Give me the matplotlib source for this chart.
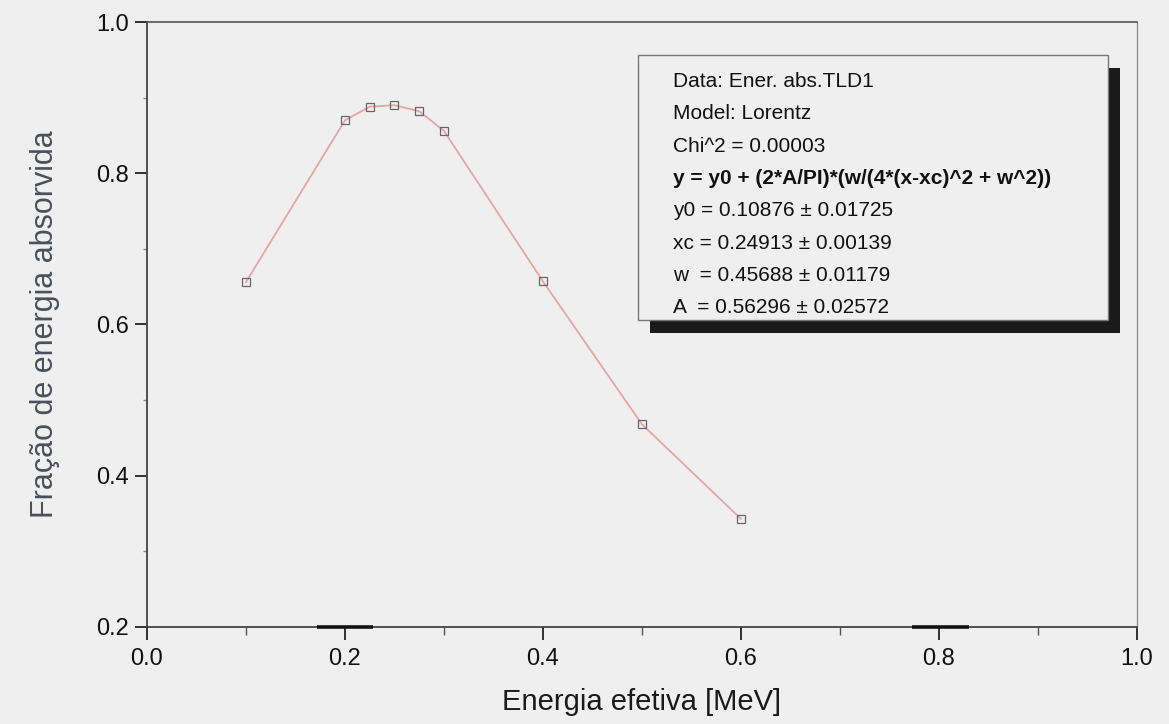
import numpy as np
import matplotlib.pyplot as plt
from matplotlib.ticker import MultipleLocator
from matplotlib.patches import Rectangle

plt.rcParams['font.family'] = ['Liberation Sans', 'DejaVu Sans']

# data
energia = [0.1, 0.2, 0.225, 0.25, 0.275, 0.3, 0.4, 0.5, 0.6]
fracao = [0.656, 0.870, 0.888, 0.890, 0.882, 0.856, 0.657, 0.468, 0.343]

fit_lines = [
    ('Data: Ener. abs.TLD1', 'normal'),
    ('Model: Lorentz', 'normal'),
    ('Chi^2 = 0.00003', 'normal'),
    ('y = y0 + (2*A/PI)*(w/(4*(x-xc)^2 + w^2))', 'bold'),
    ('y0 = 0.10876 \u00b1 0.01725', 'normal'),
    ('xc = 0.24913 \u00b1 0.00139', 'normal'),
    ('w  = 0.45688 \u00b1 0.01179', 'normal'),
    ('A  = 0.56296 \u00b1 0.02572', 'normal'),
]

bg = '#efefef'
fig = plt.figure(figsize=(11.69, 7.24), dpi=100, facecolor=bg)
ax = fig.add_axes([0.1257, 0.134, 0.8469, 0.8356])
ax.set_facecolor(bg)

ax.plot(energia, fracao, color='#e8a4a4', lw=1.3, zorder=2)
ax.plot(energia, fracao, ls='none', marker='s', ms=6, mfc='none',
        mec='#666666', mew=0.9, zorder=3)

ax.set_xlim(0.0, 1.0)
ax.set_ylim(0.2, 1.0)
ax.xaxis.set_major_locator(MultipleLocator(0.2))
ax.xaxis.set_minor_locator(MultipleLocator(0.1))
ax.yaxis.set_major_locator(MultipleLocator(0.2))
ax.yaxis.set_minor_locator(MultipleLocator(0.1))
ax.xaxis.set_major_formatter(plt.FormatStrFormatter('%.1f'))
ax.yaxis.set_major_formatter(plt.FormatStrFormatter('%.1f'))

ax.tick_params(axis='both', which='major', direction='out', length=9,
               width=1.3, color='#222222', labelsize=17, labelcolor='#111111')
ax.tick_params(axis='x', which='minor', direction='out', length=6,
               width=1.0, color='#555555')
ax.tick_params(axis='y', which='minor', direction='out', length=3,
               width=1.0, color='#888888')
ax.tick_params(axis='x', which='major', pad=6)
ax.tick_params(axis='y', which='major', pad=4)

for side in ['left', 'bottom']:
    ax.spines[side].set_color('#444444')
    ax.spines[side].set_linewidth(1.3)
ax.spines['top'].set_color('#555555')
ax.spines['top'].set_linewidth(1.2)
ax.spines['right'].set_color('#888888')
ax.spines['right'].set_linewidth(0.9)

# dark smudges sitting on the x axis in the original
for a, b in [(0.172, 0.228), (0.773, 0.830)]:
    ax.plot([a, b], [0.2, 0.2], color='#111111', lw=2.6, solid_capstyle='butt',
            clip_on=False, zorder=4)

ax.set_xlabel('Energia efetiva [MeV]', fontsize=21, color='#1a1a1a', labelpad=13)
ax.set_ylabel('Fração de energia absorvida', fontsize=22, color='#4a4f5a', labelpad=26)

# fit result box with shadow
x0, y0, w, h = 0.496, 0.5074, 0.4747, 0.438
shadow = Rectangle((x0 + 0.0121, y0 - 0.0215), w, h, transform=ax.transAxes,
                   facecolor='#1a1a1a', edgecolor='none', zorder=4)
box = Rectangle((x0, y0), w, h, transform=ax.transAxes,
                facecolor=bg, edgecolor='#777777', lw=1.0, zorder=5)
ax.add_patch(shadow)
ax.add_patch(box)

for i, (txt, wt) in enumerate(fit_lines):
    ax.text(0.531, 0.8926 - i * 0.0534, txt, transform=ax.transAxes,
            fontsize=15, fontweight=wt, color='#111111', va='baseline', ha='left',
            zorder=6)

fig.savefig('out.png', dpi=100, facecolor=bg)
